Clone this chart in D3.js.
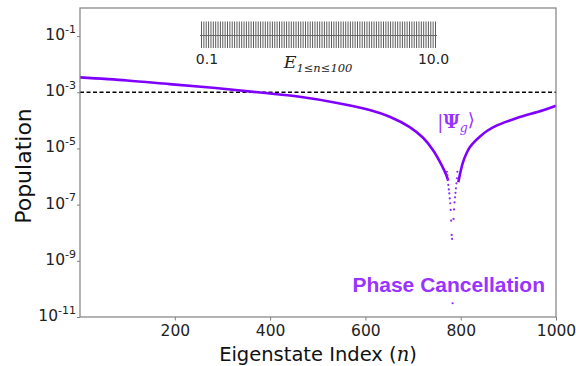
<!DOCTYPE html>
<html>
<head>
<meta charset="utf-8">
<script src="https://cdn.jsdelivr.net/npm/d3@7"></script>
<style>
  body { margin: 0; background: #fff; }
  svg { display: block; }
</style>
</head>
<body>
<script>
// population of each eigenstate as [n, log10(P)]
var leftBranch = [[1,-2.47],[100,-2.58],[189,-2.71],[280,-2.84],[374,-3.0],[462,-3.16],[538,-3.37],
    [609,-3.63],[651,-3.87],[693,-4.24],[721,-4.62],[742,-5.06],[760,-5.59],[769,-5.92],[774,-6.15]];
var rightBranch = [[795,-6.2],[800,-5.8],[805,-5.48],[812,-5.18],[819,-4.96],[830,-4.74],[840,-4.58],
    [855,-4.38],[875,-4.19],[900,-4.02],[924,-3.88],[973,-3.64],[1000,-3.48]];
// separate points near the cancellation dip
var dipPoints = [[771,-5.83],[772,-5.95],[773,-6.10],[774,-6.30],[775,-6.46],[776,-6.60],[777,-6.78],
    [778,-6.95],[779,-7.19],[780,-7.57],[781,-8.08],[782,-8.22],[783,-10.51],[785,-7.51],[786,-7.17],
    [787,-6.92],[788,-6.74],[789,-6.58],[790,-6.42],[791,-6.24],[792,-6.06],[793,-5.83]];
var threshold = 1e-3;
var yTicks = [1e-1, 1e-3, 1e-5, 1e-7, 1e-9, 1e-11];
var xTicks = [200, 400, 600, 800, 1000];
// inset energies E_n, n = 1..100
var energies = [0.1,0.2,0.3,0.4,0.5,0.6,0.7,0.8,0.9,1.0,1.1,1.2,1.3,1.4,1.5,1.6,1.7,1.8,1.9,2.0,
    2.1,2.2,2.3,2.4,2.5,2.6,2.7,2.8,2.9,3.0,3.1,3.2,3.3,3.4,3.5,3.6,3.7,3.8,3.9,4.0,
    4.1,4.2,4.3,4.4,4.5,4.6,4.7,4.8,4.9,5.0,5.1,5.2,5.3,5.4,5.5,5.6,5.7,5.8,5.9,6.0,
    6.1,6.2,6.3,6.4,6.5,6.6,6.7,6.8,6.9,7.0,7.1,7.2,7.3,7.4,7.5,7.6,7.7,7.8,7.9,8.0,
    8.1,8.2,8.3,8.4,8.5,8.6,8.7,8.8,8.9,9.0,9.1,9.2,9.3,9.4,9.5,9.6,9.7,9.8,9.9,10.0];
var insetLabels = [0.1, 10.0];

var W = 576, H = 366;
var plotL = 80, plotR = 556, plotT = 8, plotB = 317;
var purple = '#8000ff', textPurple = '#9933ff';
var font = '"DejaVu Sans", sans-serif';

var svg = d3.select('body').append('svg').attr('width', W).attr('height', H);

var x = d3.scaleLinear().domain([1, 1000]).range([plotL, plotR]);
var y = d3.scaleLog().domain([1e-11, 1]).range([plotB, plotT]);

// threshold line
svg.append('line')
    .attr('x1', plotL).attr('x2', plotR)
    .attr('y1', y(threshold)).attr('y2', y(threshold))
    .attr('stroke', '#000').attr('stroke-width', 1.3).attr('stroke-dasharray', '4,2.5');

// population curve
var line = d3.line().x(d => x(d[0])).y(d => y(Math.pow(10, d[1]))).curve(d3.curveCatmullRom.alpha(0.5));
[leftBranch, rightBranch].forEach(b => {
    svg.append('path').attr('d', line(b))
        .attr('fill', 'none').attr('stroke', purple).attr('stroke-width', 2.6);
});
svg.selectAll('circle.dip').data(dipPoints).enter().append('circle')
    .attr('class', 'dip')
    .attr('cx', d => x(d[0])).attr('cy', d => y(Math.pow(10, d[1])))
    .attr('r', 1.1).attr('fill', '#8a2cf5');

// frame
svg.append('rect').attr('x', plotL).attr('y', plotT)
    .attr('width', plotR - plotL).attr('height', plotB - plotT)
    .attr('fill', 'none').attr('stroke', '#808080').attr('stroke-width', 1.2);

// x axis
var xAxis = svg.append('g').attr('transform', 'translate(0,' + plotB + ')')
    .call(d3.axisBottom(x).tickValues(xTicks).tickSize(3.5).tickPadding(4).tickFormat(d3.format('d')));
xAxis.select('.domain').remove();
xAxis.selectAll('line').attr('stroke', '#808080');
xAxis.selectAll('text').attr('font-family', font).attr('font-size', 15.5).attr('fill', '#222');

// y axis with superscript labels
var yAxis = svg.append('g').attr('transform', 'translate(' + plotL + ',0)')
    .call(d3.axisLeft(y).tickValues(yTicks).tickSize(3).tickPadding(1).tickFormat(''));
yAxis.select('.domain').remove();
yAxis.selectAll('line').attr('stroke', '#808080');
yAxis.selectAll('text').each(function(d) {
    var t = d3.select(this).attr('font-family', font).attr('fill', '#222').attr('dy', '0.35em');
    t.append('tspan').attr('font-size', 15.5).text('10');
    t.append('tspan').attr('font-size', 11).attr('dy', '-0.65em').text(Math.round(Math.log10(d)));
});

// axis titles
svg.append('text').attr('transform', 'translate(31,166) rotate(-90)')
    .attr('text-anchor', 'middle').attr('font-family', font).attr('font-size', 22).attr('fill', '#111')
    .text('Population');
var xl = svg.append('text').attr('x', 318).attr('y', 361)
    .attr('text-anchor', 'middle').attr('font-family', font).attr('font-size', 19.5).attr('fill', '#111');
xl.append('tspan').text('Eigenstate Index (');
xl.append('tspan').attr('font-family', '"DejaVu Serif", serif').attr('font-style', 'italic').text('n');
xl.append('tspan').text(')');

// inset: energy spectrum
var ex = d3.scaleLinear().domain([0.1, 10.0]).range([201.5, 435.5]);
var inset = svg.append('g');
inset.selectAll('line.e').data(energies).enter().append('line')
    .attr('class', 'e')
    .attr('x1', d => ex(d)).attr('x2', d => ex(d))
    .attr('y1', 21.5).attr('y2', 48)
    .attr('stroke', '#333').attr('stroke-width', 0.8);
inset.append('line').attr('x1', 200).attr('x2', 437).attr('y1', 35.5).attr('y2', 35.5)
    .attr('stroke', '#666').attr('stroke-width', 1);
inset.selectAll('text.el').data(insetLabels).enter().append('text')
    .attr('class', 'el')
    .attr('x', (d, i) => ex(d) + (i == 0 ? 5.5 : -2))
    .attr('y', 64).attr('text-anchor', 'middle')
    .attr('font-family', font).attr('font-size', 14).attr('fill', '#222')
    .text(d => d.toFixed(1));
var el = inset.append('text').attr('x', 318).attr('y', 67.5).attr('text-anchor', 'middle')
    .attr('font-family', '"DejaVu Serif", serif').attr('fill', '#222');
el.append('tspan').attr('font-style', 'italic').attr('font-size', 17.5).text('E');
el.append('tspan').attr('font-size', 11.5).attr('dy', '0.35em').attr('font-style', 'italic')
    .text('1\u2264n\u2264100');

// state label
var sl = svg.append('text').attr('x', 456).attr('y', 128).attr('text-anchor', 'middle')
    .attr('font-family', '"DejaVu Serif", serif').attr('font-size', 18).attr('fill', textPurple);
sl.append('tspan').text('|');
sl.append('tspan').attr('font-weight', 'bold').text('\u03A8');
sl.append('tspan').attr('font-style', 'italic').attr('font-size', 12.5).attr('dy', '0.3em').text('g');
sl.append('tspan').attr('dy', '-0.3em').text('\u27E9');

svg.append('text').attr('x', 545).attr('y', 292).attr('text-anchor', 'end')
    .attr('font-family', '"Liberation Sans", Arial, sans-serif').attr('font-weight', 'bold')
    .attr('font-size', 21).attr('fill', textPurple)
    .text('Phase Cancellation');
</script>
</body>
</html>
